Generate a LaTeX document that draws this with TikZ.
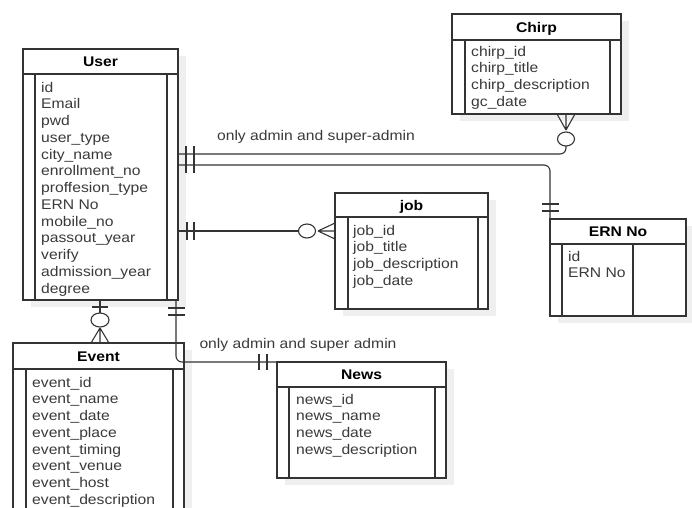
\documentclass[tikz,border=0pt]{standalone}
\usepackage{fontspec}
\setmainfont{Liberation Sans}[FakeStretch=1.12]
\usetikzlibrary{calc,shapes.geometric}
\definecolor{lc}{HTML}{333333}
\definecolor{tc}{HTML}{3A3A3A}
\definecolor{shc}{HTML}{EFEFEF}
\tikzset{
  ebox/.style={draw=lc, line width=1.1pt, fill=white, rectangle, inner sep=0pt, outer sep=0pt},
  hdr/.style={font=\fontsize{14}{16}\selectfont\bfseries, text=black, inner sep=0pt, anchor=base},
  rowtxt/.style={font=\fontsize{14}{16}\selectfont, text=tc, inner sep=0pt, anchor=base west},
  conn/.style={draw=lc, line width=1.1pt},
  lbl/.style={font=\fontsize{14}{16}\selectfont, text=tc, inner sep=0pt, anchor=base},
  ering/.style={ellipse, draw=lc, fill=white, line width=1.1pt, minimum width=17pt, minimum height=14pt, inner sep=0pt, outer sep=0pt},
}
\newcommand{\erbox}[9]{%
  \fill[shc] (#2+8,#3+7) rectangle (#4+8,#5+7);
  \node[ebox, minimum width={(#4-#2)*1pt}, minimum height={(#5-#3)*1pt}] (#1) at ({(#2+#4)/2},{(#3+#5)/2}) {};
  \draw[conn] (#2,#6) -- (#4,#6) (#7,#6) -- (#7,#5) (#8,#6) -- (#8,#5);
  \node[hdr] (#1-title) at ({(#2+#4)/2},{(#3+#6)/2+5}) {#9};
}
\newcommand{\errows}[5]{%
  \foreach \t [count=\i] in {#5} {
    \node[rowtxt] (#1-r\i) at (#2, {#3+(\i-1)*#4}) {\t};
  }
}
\begin{document}
\begin{tikzpicture}[x=1pt,y=-1pt]
\useasboundingbox (0,0) rectangle (692,507);
\clip (0,0) rectangle (692,507);

% entities
\erbox{chirp}{452}{14}{621}{114}{40}{465}{610}{Chirp}
\errows{chirp}{471}{56}{16.75}{chirp\_id,chirp\_title,chirp\_description,gc\_date}

\erbox{user}{23}{49}{178}{300}{74}{35}{167}{User}
\errows{user}{41}{92}{16.75}{id,Email,pwd,user\_type,city\_name,enrollment\_no,proffesion\_type,ERN No,mobile\_no,passout\_year,verify,admission\_year,degree}

\erbox{job}{335}{193}{488}{309}{217}{348}{478}{job}
\errows{job}{353}{235}{16.75}{job\_id,job\_title,job\_description,job\_date}

\erbox{ern}{550}{219}{686}{316}{244}{562}{633}{ERN No}
\errows{ern}{568}{261}{16.75}{id,ERN No}

\erbox{event}{13}{343}{184}{540}{369}{26}{173}{Event}
\errows{event}{32}{387}{16.75}{event\_id,event\_name,event\_date,event\_place,event\_timing,event\_venue,event\_host,event\_description}

\erbox{news}{277}{362}{446}{478}{387}{289}{435}{News}
\errows{news}{296}{404}{16.75}{news\_id,news\_name,news\_date,news\_description}

% User -- Chirp
\node[ering] (c1) at (566,139) {};
\draw[conn, rounded corners=6] ($(user.north east)+(0,105)$) -| (c1.south);
\draw[conn] (566,130) -- (557,114) (566,130) -- (566,114) (566,130) -- (575,114);
\node[lbl] (l1) at (316,140) {only admin and super-admin};

% User -- ERN No
\draw[conn, rounded corners=6] ($(user.north east)+(0,116)$) -| (ern.north west);
\draw[conn] (186,146) -- (186,173) (194,146) -- (194,173);
\draw[conn] (542,204) -- (559,204) (542,211) -- (559,211);

% User -- job
\node[ering] (c3) at (307,231) {};
\draw[conn] ($(user.north east)+(0,182)$) -- (c3.west);
\draw[conn] (187,222) -- (187,240) (194,222) -- (194,240);
\draw[conn] (318,231) -- (335,223) (318,231) -- (335,231) (318,231) -- (335,239);

% User -- Event
\node[ering, minimum width=18pt] (c4) at (100,320) {};
\draw[conn] (user.south -| c4) -- (c4.north);
\draw[conn] (92,307) -- (108,307);
\draw[conn] (100,328) -- (91,343) (100,328) -- (100,343) (100,328) -- (109,343);

% User -- News
\draw[conn, rounded corners=6] ($(user.south east)+(-2,0)$) |- (news.north west);
\draw[conn] (168,308) -- (185,308) (168,315) -- (185,315);
\draw[conn] (259,354) -- (259,370) (267,354) -- (267,370);
\node[lbl] (l2) at (298,348) {only admin and super admin};
\end{tikzpicture}
\end{document}
